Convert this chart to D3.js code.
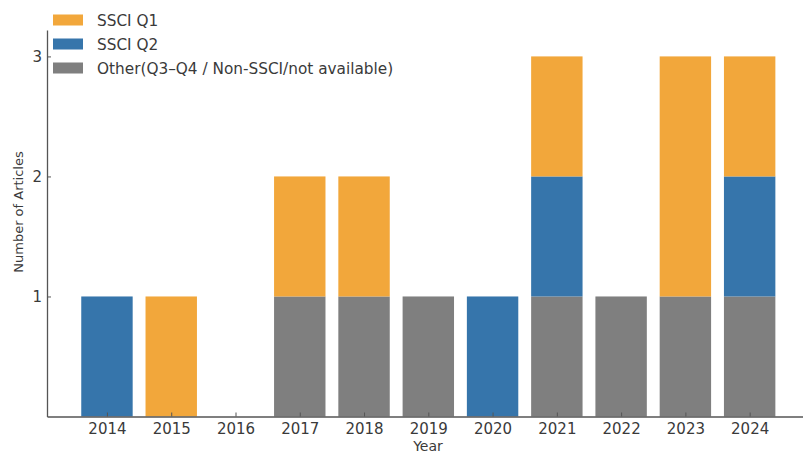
<!DOCTYPE html>
<html><head><meta charset="utf-8">
<script src="https://cdn.jsdelivr.net/npm/d3@7"></script>
<style>body{margin:0;background:#fff}svg{display:block}text{font-family:"DejaVu Sans",sans-serif;fill:#3a3a3a}</style>
</head><body><svg id="c" width="803" height="455"></svg>
<script>
const years = ["2014","2015","2016","2017","2018","2019","2020","2021","2022","2023","2024"];
const other = [0,0,0,1,1,1,0,1,1,1,1];
const q2    = [1,0,0,0,0,0,1,1,0,0,1];
const q1    = [0,1,0,1,1,0,0,1,0,2,1];
const seriesNames = ["SSCI Q1","SSCI Q2","Other(Q3\u2013Q4 / Non-SSCI/not available)"];
const colors = {other:"#7f7f7f", q2:"#3675ab", q1:"#f2a73b"};
const yTicks = [1,2,3];

const svg = d3.select("#c");
const x = d3.scaleLinear().domain([-0.933, 10.83]).range([47, 803]);
const y = d3.scaleLinear().domain([0, 3.22]).range([416.5, 30]);
const bw = (x(1)-x(0))*0.8;

const rows = years.map((yr,i)=>({yr,i,other:other[i],q2:q2[i],q1:q1[i]}));
const stack = d3.stack().keys(["other","q2","q1"])(rows);
const g = svg.append("g");
stack.forEach(layer=>{
  g.selectAll(null).data(layer.filter(d=>d[1]>d[0])).enter().append("rect")
    .attr("x",d=>x(d.data.i)-bw/2).attr("width",bw)
    .attr("y",d=>y(d[1])).attr("height",d=>y(d[0])-y(d[1]))
    .attr("fill",colors[layer.key]);
});

// axes
const xAxis = d3.axisBottom(x).tickValues(d3.range(years.length)).tickFormat(i=>years[i]).tickSizeInner(-4).tickSizeOuter(0).tickPadding(7);
const xg = svg.append("g").attr("transform",`translate(0,${y(0)})`).call(xAxis);
xg.select(".domain").attr("stroke","#555").attr("stroke-width",1.3);
xg.selectAll(".tick line").attr("stroke","#555");
xg.selectAll("text").style("font-size","15px").attr("fill","#3a3a3a");

const yAxis = d3.axisLeft(y).tickValues(yTicks).tickFormat(d3.format("d")).tickSizeInner(-4).tickSizeOuter(0).tickPadding(5);
const yg = svg.append("g").attr("transform",`translate(${x.range()[0]},0)`).call(yAxis);
yg.select(".domain").attr("stroke","#555").attr("stroke-width",1.3);
yg.selectAll(".tick line").attr("stroke","#555");
yg.selectAll("text").style("font-size","15px").attr("fill","#3a3a3a");

svg.append("text").attr("x",428).attr("y",451).attr("text-anchor","middle").style("font-size","14px").text("Year");
svg.append("text").attr("transform","translate(23,212) rotate(-90)").attr("text-anchor","middle").style("font-size","13px").text("Number of Articles");

// legend
const legColors = [colors.q1, colors.q2, colors.other];
const leg = svg.append("g");
seriesNames.forEach((n,k)=>{
  const cy = 20 + k*24;
  leg.append("rect").attr("x",53).attr("y",cy-5.5).attr("width",30).attr("height",11).attr("fill",legColors[k]);
  leg.append("text").attr("x",97).attr("y",cy+5.5).style("font-size","15.3px").text(n);
});
</script></body></html>
